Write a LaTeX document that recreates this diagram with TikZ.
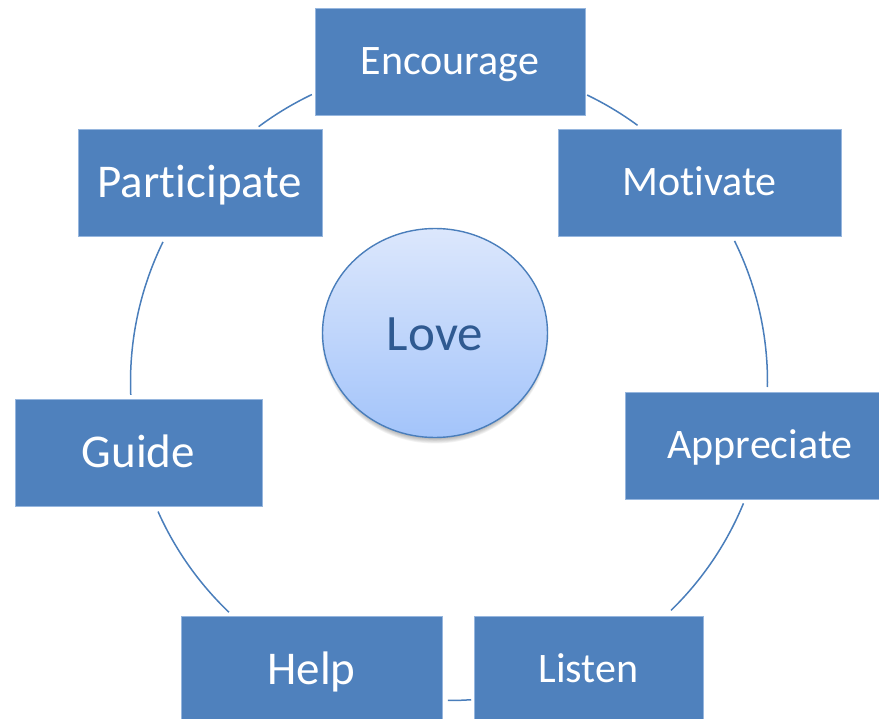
\documentclass[tikz,border=0pt]{standalone}
\usepackage{fontspec}
\setmainfont{Carlito}[Ligatures={NoCommon,NoContextual}, Contextuals=NoAlternate]
\usetikzlibrary{shapes.geometric,calc}
\definecolor{boxblue}{RGB}{79,129,189}
\definecolor{boxedge}{RGB}{150,182,222}
\definecolor{ringblue}{RGB}{74,126,187}
\definecolor{lovetop}{RGB}{220,231,252}
\definecolor{lovebot}{RGB}{163,196,250}
\definecolor{lovetext}{RGB}{47,90,145}
\tikzset{
  box/.style={rectangle, fill=boxblue, draw=boxedge, line width=0.8pt,
    text=white, inner sep=0pt, font=\fontsize{#1pt}{#1pt}\selectfont,
    text height={0.632*#1pt}, text depth=0pt},
  ring/.style={draw=ringblue, line width=1.5pt},
  lovenode/.style={ellipse, draw=ringblue, line width=1.4pt,
    top color=lovetop, bottom color=lovebot, inner sep=0pt,
    minimum width=225pt, minimum height=209pt, text=lovetext,
    font=\fontsize{51pt}{51pt}\selectfont, text height=36pt, text depth=0pt}
}
\begin{document}
\begin{tikzpicture}[x=1pt,y=-1pt]
\useasboundingbox (0,0) rectangle (879,719);
\clip (0,0) rectangle (879,719);
\coordinate (O) at (449,382);
\coordinate (lc) at (435,333);
% shadow of the central ellipse
\foreach \k in {0,...,5}{
  \fill[black, opacity=0.05] ($(lc)+(0,-3pt)$) ellipse [x radius={110pt+\k*0.7pt}, y radius={103pt+\k*0.9pt}];
}
\node[lovenode] (love) at (lc) {Love};
% boxes
\node[box=42, minimum width=270pt, minimum height=107pt] (enc) at (450,61.5) {Encourage};
\node[box=42, minimum width=283pt, minimum height=107pt] (mot) at (699.5,182.5) {Mot\kern0pt ivate};
\node[box=42, minimum width=270pt, minimum height=107pt] (app) at (760,445.5) {Appreciate};
\node[box=42, minimum width=229pt, minimum height=107pt] (lis) at (588.5,669.5) {Listen};
\node[box=47, minimum width=261pt, minimum height=107pt] (hel) at (311.5,669.5) {Help};
\node[box=47, minimum width=247pt, minimum height=107pt] (gui) at (138.5,452.5) {Guide};
\node[box=47, minimum width=244pt, minimum height=107pt] (par) at (200,182.5) {Part\kern0pt icipate};
% ring arcs between the boxes
\draw[ring] ($(O)+(115.5:318.5pt)$) arc[start angle=115.5, end angle=126.7, radius=318.5pt];
\draw[ring] ($(O)+(64.3:318.5pt)$) arc[start angle=64.3, end angle=53.7, radius=318.5pt];
\draw[ring] ($(O)+(26.3:318.5pt)$) arc[start angle=26.3, end angle=-0.9, radius=318.5pt];
\draw[ring] ($(O)+(-22.4:318.5pt)$) arc[start angle=-22.4, end angle=-45.8, radius=318.5pt];
\draw[ring] ($(O)+(269.8:318.5pt)$) arc[start angle=269.8, end angle=274, radius=318.5pt];
\draw[ring] ($(O)+(204:318.5pt)$) arc[start angle=204, end angle=226.3, radius=318.5pt];
\draw[ring] ($(O)+(153.9:318.5pt)$) arc[start angle=153.9, end angle=182.3, radius=318.5pt];
\end{tikzpicture}
\end{document}
